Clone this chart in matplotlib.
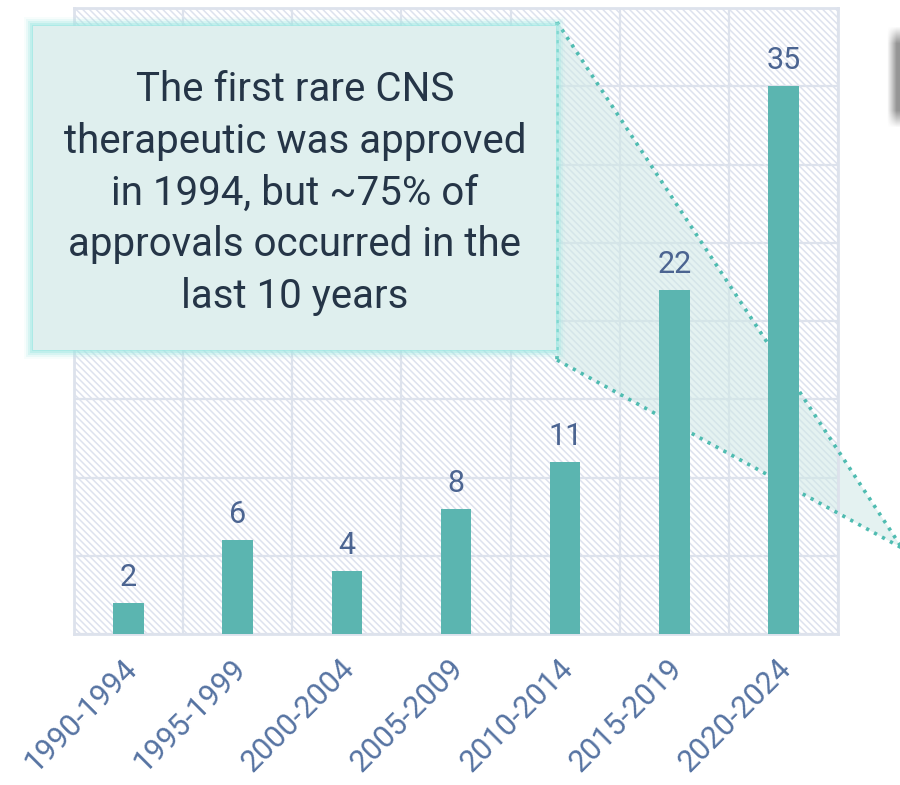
"""
Rare CNS therapeutic approvals per 5-year period
"""

import numpy as np
import matplotlib
matplotlib.use("Agg")
import matplotlib.pyplot as plt
import matplotlib.transforms as mtransforms
from matplotlib.patches import Rectangle, Polygon

periods = ["1990-1994", "1995-1999", "2000-2004", "2005-2009",
           "2010-2014", "2015-2019", "2020-2024"]
approvals = [2, 6, 4, 8, 11, 22, 35]
y_ticks = [0, 5, 10, 15, 20, 25, 30, 35, 40]

note = ("The first rare CNS\ntherapeutic was approved\nin 1994, but ~75% of\n"
        "approvals occurred in the\nlast 10 years")

bar_col = "#5bb5b0"
grid_col = "#dde2ec"
hatch_col = "#dde2ee"
label_col = "#4b6491"
tick_col = "#5673a2"

plt.rcParams["font.family"] = ["Roboto", "DejaVu Sans"]
plt.rcParams["hatch.linewidth"] = 1.1
plt.rcParams["hatch.color"] = hatch_col

W, H = 900, 785
fig = plt.figure(figsize=(W / 100, H / 100), dpi=100)


def fx(px):
    return px / W


def fy(py):
    return 1 - py / H


ax = fig.add_axes([fx(74), fy(634), fx(838) - fx(74), fy(8) - fy(634)])
ax.set_xlim(-0.5, len(periods) - 0.5)
ax.set_ylim(0, 40)

# hatched background
bg = Rectangle((0, 0), 1, 1, transform=ax.transAxes, facecolor="white",
               edgecolor=hatch_col, hatch="\\\\\\\\\\", linewidth=0, zorder=0)
ax.add_patch(bg)

x = np.arange(len(periods))
ax.bar(x, approvals, width=0.28, color=bar_col, zorder=4)
for xi, v in zip(x, approvals):
    ax.annotate(str(v), (xi, v), xytext=(0, 8), textcoords="offset points",
                ha="center", va="bottom", fontsize=22, color=label_col, zorder=4)

# grid
ax.set_yticks(y_ticks)
ax.set_xticks(x)
ax.grid(False)
for yv in y_ticks:
    ax.axhline(yv, color=grid_col, lw=1.6, zorder=1)
for xv in np.arange(-0.5, len(periods), 1.0):
    ax.axvline(xv, color=grid_col, lw=1.6, zorder=1)
for s in ax.spines.values():
    s.set_color(grid_col)
    s.set_linewidth(2)
ax.tick_params(axis="both", which="both", length=0)
ax.set_yticklabels([])
ax.set_xticklabels(periods, rotation=45, ha="right", va="top",
                   rotation_mode="anchor", fontsize=22, color=tick_col)
ax.tick_params(axis="x", pad=14)
shift = mtransforms.ScaledTranslation(-7 / 100, 0, fig.dpi_scale_trans)
for t in ax.get_xticklabels():
    t.set_transform(t.get_transform() + shift)

# zoom-out wedge from the callout toward the recent bars (behind the bars)
wedge = Polygon([(fx(557), fy(22)), (fx(902), fy(548)), (fx(557), fy(360))],
                closed=True, transform=fig.transFigure, facecolor="#cfe9e6",
                alpha=0.55, edgecolor="none", zorder=2, clip_on=False)
ax.add_patch(wedge)
for (x0, y0), (x1, y1) in [((557, 22), (902, 548)), ((557, 360), (902, 548)),
                           ((557, 22), (557, 360))]:
    ax.add_line(plt.Line2D([fx(x0), fx(x1)], [fy(y0), fy(y1)],
                           transform=fig.transFigure, color="#4fbcb1", lw=2.6,
                           linestyle=(0, (0.9, 1.6)), zorder=3, clip_on=False))

# callout box with soft glow
bx0, bx1, by0, by1 = 33, 556, 26, 350
for i, a in enumerate([0.08, 0.15, 0.25, 0.4, 0.6]):
    g = 9 - i * 2
    ax.add_patch(Rectangle((fx(bx0 - g), fy(by1 + g)), fx(bx1 - bx0 + 2 * g),
                           (by1 - by0 + 2 * g) / H, transform=fig.transFigure,
                           facecolor="#9fe8e3", alpha=a, edgecolor="none",
                           zorder=7, clip_on=False))
ax.add_patch(Rectangle((fx(bx0), fy(by1)), fx(bx1 - bx0), (by1 - by0) / H,
                       transform=fig.transFigure, facecolor="#dfefee",
                       edgecolor="none", zorder=8, clip_on=False))
ax.text(fx(295), fy(193), note, transform=fig.transFigure, ha="center",
        va="center", fontsize=29, color="#253547", linespacing=1.41, zorder=9)

# grey shadow of a neighbouring element cut off at the right edge
sh_ax = fig.add_axes([fx(884), fy(128), fx(16), (128 - 26) / H])
sh_ax.axis("off")
gx = np.clip(np.linspace(0, 1.0, 16) * 1.6 - 0.3, 0, 1)
gy = np.clip(np.minimum(np.linspace(0, 1, 102), np.linspace(1, 0, 102)) * 6, 0, 1)
alpha = np.outer(gy, gx) * 0.75
img = np.zeros((102, 16, 4))
img[..., :3] = 0.45
img[..., 3] = alpha
sh_ax.imshow(img, aspect="auto", interpolation="bilinear")

fig.savefig("out.png", dpi=100)
